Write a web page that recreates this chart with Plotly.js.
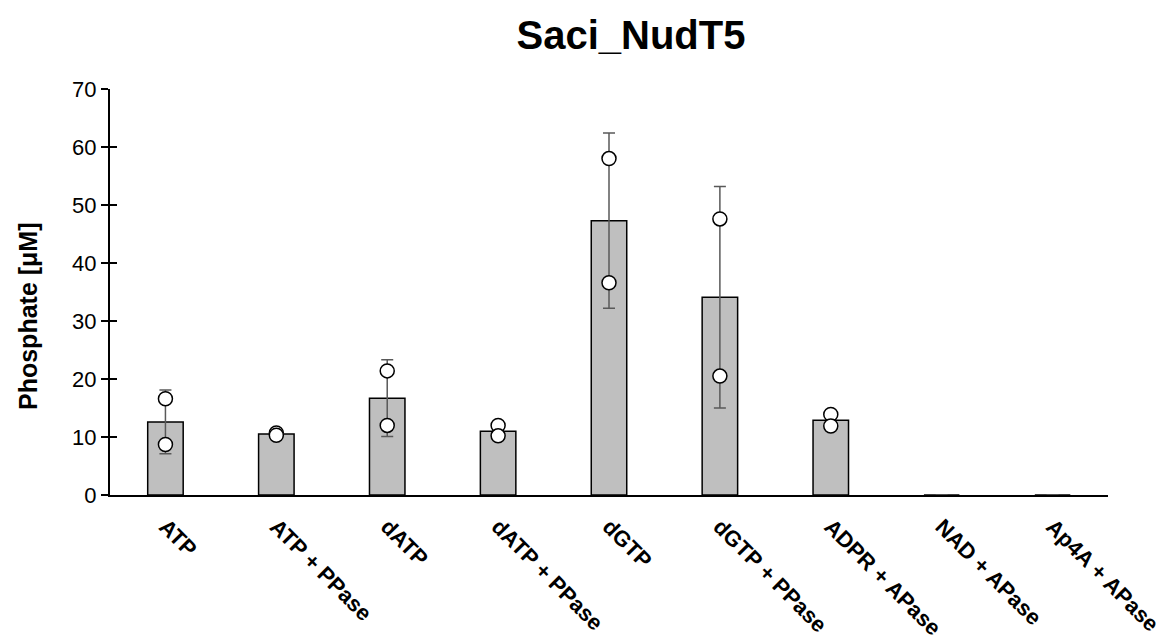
<!DOCTYPE html>
<html>
<head>
<meta charset="utf-8">
<script src="https://cdn.plot.ly/plotly-3.0.1.min.js"></script>
<style>html,body{margin:0;padding:0;background:#fff;}#chart{width:1172px;height:642px;}</style>
</head>
<body>
<div id="chart"></div>
<script>
const categories = ["ATP", "ATP + PPase", "dATP", "dATP + PPase", "dGTP", "dGTP + PPase", "ADPR + APase", "NAD + APase", "Ap4A + APase"];
const means = [12.6, 10.5, 16.7, 11.0, 47.3, 34.1, 12.9, 0, 0];
const sds = [5.5, 0.3, 6.6, 1.3, 15.1, 19.1, 1.4, 0, 0];
const rep1 = [16.6, 10.7, 21.4, 12.0, 58.0, 47.6, 13.9, null, null];
const rep2 = [8.7, 10.3, 12.0, 10.2, 36.6, 20.5, 11.9, null, null];
const yTicks = [0, 10, 20, 30, 40, 50, 60, 70];

const font = "Arial, 'Liberation Sans', sans-serif";

const barTrace = {
  type: "bar", x: categories, y: means, width: 0.32,
  marker: {color: "#BFBFBF", line: {color: "#000000", width: 1.5}},
  error_y: {type: "data", array: sds, visible: true, color: "#595959", thickness: 1.5, width: 6},
  hoverinfo: "skip", showlegend: false
};
const ptsX = categories.concat(categories);
const ptsY = rep1.concat(rep2);
const pointTrace = {
  type: "scatter", mode: "markers", x: ptsX, y: ptsY,
  marker: {size: 14, color: "#FFFFFF", line: {color: "#000000", width: 1.5}},
  showlegend: false, cliponaxis: false
};
// transparent copy of the means on the overlay axis so its inner ticks are drawn
const tickTrace = {
  type: "scatter", mode: "markers", x: categories, y: means, yaxis: "y2",
  marker: {size: 1, opacity: 0}, showlegend: false, hoverinfo: "skip"
};

const layout = {
  width: 1172, height: 642,
  margin: {l: 110, r: 64, t: 89, b: 147},
  paper_bgcolor: "#FFFFFF", plot_bgcolor: "rgba(0,0,0,0)",
  title: {text: "<b>Saci_NudT5</b>", font: {family: font, size: 40, color: "#000"}, x: 0.5384, xref: "container", xanchor: "center", y: 0.9455, yref: "container", yanchor: "middle"},
  xaxis: {
    type: "category", showline: true, linecolor: "#000", linewidth: 2,
    ticks: "", tickangle: 45, showgrid: false, zeroline: false,
    tickfont: {family: font, size: 22, color: "#000", weight: "bold"},
    ticklabelstandoff: 8,
    range: [-0.5, 8.5], automargin: false
  },
  yaxis: {
    range: [0, 70], tickvals: yTicks, ticktext: yTicks.map(String),
    showline: true, linecolor: "#000", linewidth: 2,
    ticks: "outside", ticklen: 7, tickwidth: 2, tickcolor: "#000",
    showgrid: false, zeroline: false, automargin: false,
    tickfont: {family: font, size: 22, color: "#000"}
  },
  yaxis2: {
    overlaying: "y", anchor: "x", side: "left", range: [0, 70], tickvals: yTicks,
    showticklabels: false, showline: false, showgrid: false, zeroline: false,
    ticks: "inside", ticklen: 7, tickwidth: 2, tickcolor: "#000", automargin: false
  },
  annotations: [{
    text: "<b>Phosphate [μM]</b>", textangle: -90, showarrow: false,
    xref: "paper", yref: "paper", x: -82 / 998, y: (495 - 316) / 406,
    xanchor: "center", yanchor: "middle",
    font: {family: font, size: 25, color: "#000"}
  }],
  bargap: 0.68
};

Plotly.newPlot("chart", [barTrace, pointTrace, tickTrace], layout, {displayModeBar: false, staticPlot: true});
</script>
</body>
</html>
